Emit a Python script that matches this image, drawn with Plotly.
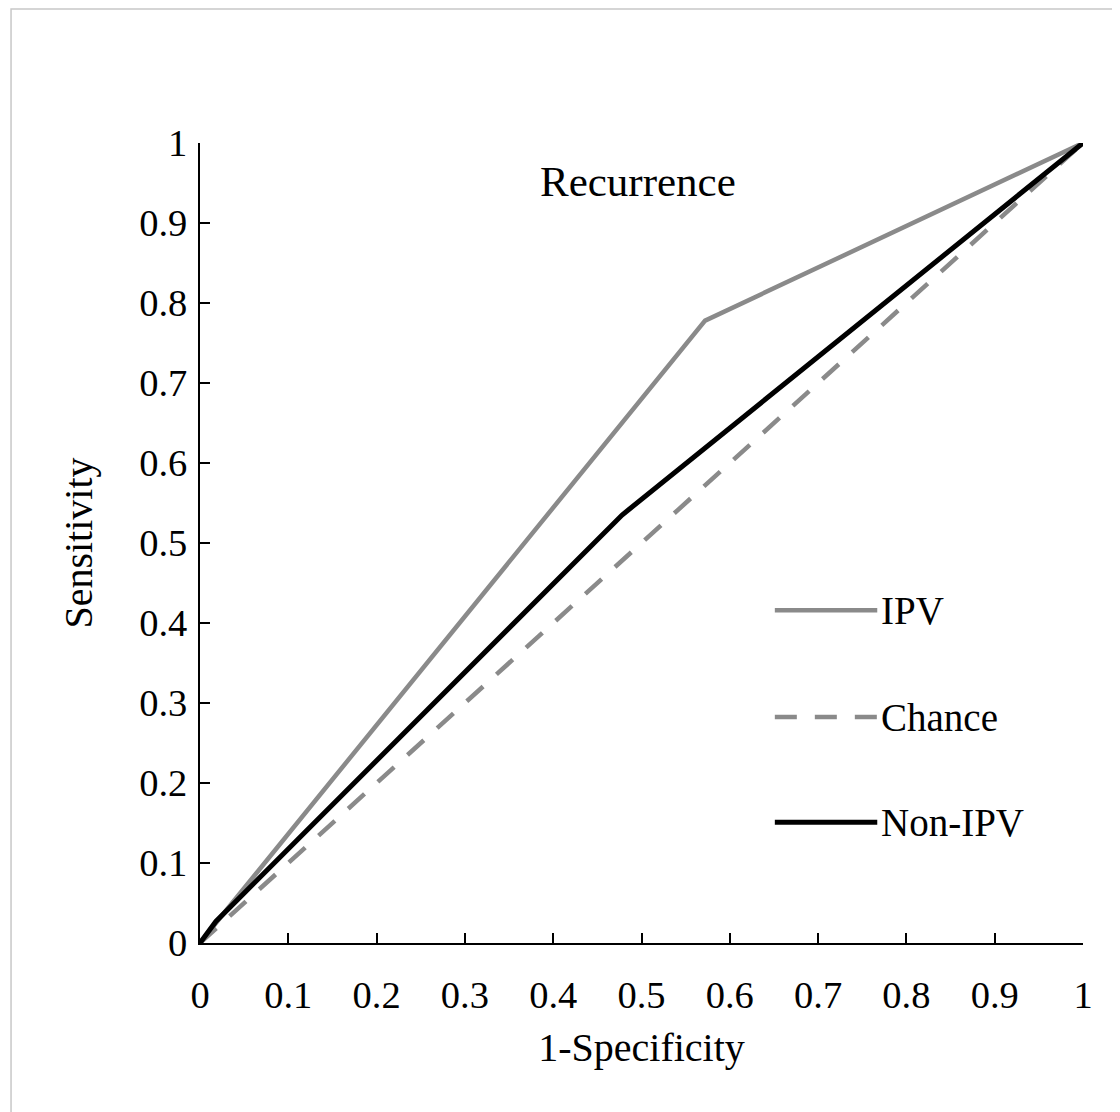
import plotly.graph_objects as go

# Data
ipv_x = [0, 0.018, 0.572, 1]
ipv_y = [0, 0.025, 0.778, 1]
non_ipv_x = [0, 0.018, 0.478, 1]
non_ipv_y = [0, 0.027, 0.535, 1]
chance_x = [0, 1]
chance_y = [0, 1]
tick_vals = [0, 0.1, 0.2, 0.3, 0.4, 0.5, 0.6, 0.7, 0.8, 0.9, 1]
tick_text = ["0", "0.1", "0.2", "0.3", "0.4", "0.5", "0.6", "0.7", "0.8", "0.9", "1"]
legend_names = ["IPV", "Chance", "Non-IPV"]

GRAY = "#8a8a8a"
FONT = "Liberation Serif"

fig = go.Figure()
fig.add_trace(go.Scatter(x=chance_x, y=chance_y, mode="lines", name="Chance",
                         line=dict(color=GRAY, width=4.5, dash="22px,18px"), showlegend=False))
fig.add_trace(go.Scatter(x=ipv_x, y=ipv_y, mode="lines", name="IPV",
                         line=dict(color=GRAY, width=4.5), showlegend=False))
fig.add_trace(go.Scatter(x=non_ipv_x, y=non_ipv_y, mode="lines", name="Non-IPV",
                         line=dict(color="black", width=5), showlegend=False))

# Manual legend (long line samples)
legend_styles = [dict(color=GRAY, width=4.5), dict(color=GRAY, width=4.5, dash="22px,18px"),
                 dict(color="black", width=5)]
legend_y = [0.416, 0.2825, 0.151]
for name, st, ly in zip(legend_names, legend_styles, legend_y):
    fig.add_shape(type="line", xref="paper", yref="paper", x0=0.651, x1=0.767, y0=ly, y1=ly,
                  line=st)
    fig.add_annotation(xref="paper", yref="paper", x=0.769, y=ly, text=name, showarrow=False,
                       xanchor="left", yanchor="middle", font=dict(family=FONT, size=39, color="black"))

fig.add_annotation(xref="paper", yref="paper", x=0.496, y=0.9525, text="Recurrence", showarrow=False,
                   xanchor="center", yanchor="middle", font=dict(family=FONT, size=43, color="black"))

# Outer light frame
fig.add_shape(type="rect", xref="paper", yref="paper", x0=-0.214, x1=1.08, y0=-0.26, y1=1.1675,
              line=dict(color="#c8c8c8", width=1.5), layer="below")

axis_common = dict(range=[0, 1], tickvals=tick_vals, ticktext=tick_text, showgrid=False, zeroline=False,
                   showline=True, linecolor="black", linewidth=2, ticks="inside", ticklen=10,
                   tickwidth=2, tickcolor="black", tickfont=dict(family=FONT, size=38.5, color="black"))

fig.update_xaxes(**axis_common, title=dict(text="1-Specificity", font=dict(family=FONT, size=40, color="black"), standoff=18),
                 ticklabelstandoff=17)
fig.update_yaxes(**axis_common, title=dict(text="Sensitivity", font=dict(family=FONT, size=40, color="black"), standoff=34),
                 ticklabelstandoff=3)

fig.update_layout(width=1120, height=1112, plot_bgcolor="white", paper_bgcolor="white",
                  margin=dict(l=192, r=45, t=135, b=177), showlegend=False)

fig.write_html("out.html")
